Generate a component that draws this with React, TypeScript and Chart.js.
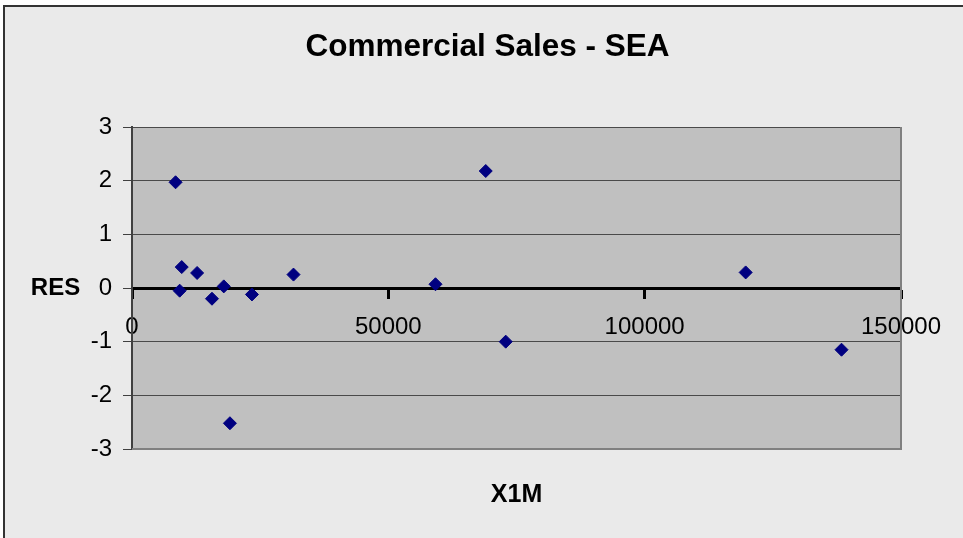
import React, { useEffect, useRef } from "react";
import { Chart, registerables } from "chart.js";

Chart.register(...registerables);

const chartTitle = "Commercial Sales - SEA";
const xAxisTitle = "X1M";
const yAxisTitle = "RES";

const x1m = [8500, 9300, 9700, 12700, 15600, 17900, 19100, 23400, 31500, 59200, 69000, 72900, 119700, 138400];
const res = [1.97, -0.05, 0.39, 0.28, -0.2, 0.03, -2.52, -0.12, 0.25, 0.07, 2.18, -1.0, 0.29, -1.15];

const xTicks = [0, 50000, 100000, 150000];
const yTicks = [-3, -2, -1, 0, 1, 2, 3];

const FONT = "'Liberation Sans', Arial, sans-serif";

const plotBackground = {
  id: "plotBackground",
  beforeDraw(chart: any) {
    const { ctx, chartArea } = chart;
    ctx.save();
    ctx.fillStyle = "#C0C0C0";
    ctx.fillRect(chartArea.left, chartArea.top, chartArea.right - chartArea.left, chartArea.bottom - chartArea.top);
    ctx.restore();
  },
  beforeDatasetsDraw(chart: any) {
    const { ctx, chartArea } = chart;
    ctx.save();
    ctx.strokeStyle = "#808080";
    ctx.lineWidth = 2;
    ctx.beginPath();
    ctx.moveTo(chartArea.left, chartArea.bottom);
    ctx.lineTo(chartArea.right, chartArea.bottom);
    ctx.lineTo(chartArea.right, chartArea.top);
    ctx.stroke();
    ctx.restore();
  },
};

const textLabels = {
  id: "textLabels",
  afterDraw(chart: any) {
    const { ctx, chartArea } = chart;
    ctx.save();
    ctx.fillStyle = "#000";
    ctx.textAlign = "center";
    ctx.textBaseline = "alphabetic";
    ctx.font = `bold 31.5px ${FONT}`;
    ctx.fillText(chartTitle, 487.5, 56);
    ctx.font = `bold 24px ${FONT}`;
    ctx.fillText(yAxisTitle, 55.5, 295);
    ctx.font = `bold 25px ${FONT}`;
    ctx.fillText(xAxisTitle, (chartArea.left + chartArea.right) / 2, 502);
    ctx.restore();
  },
};

export default function App() {
  const canvasRef = useRef<HTMLCanvasElement | null>(null);

  useEffect(() => {
    const canvas = canvasRef.current;
    if (!canvas) return;
    const chart = new Chart(canvas, {
      type: "scatter",
      data: {
        datasets: [
          {
            label: yAxisTitle,
            data: x1m.map((x, i) => ({ x, y: res[i] })),
            pointStyle: "rectRot",
            pointRadius: 6.5,
            pointHoverRadius: 6.5,
            backgroundColor: "#000080",
            borderColor: "#000080",
            borderWidth: 1,
          },
        ],
      },
      options: {
        responsive: false,
        animation: false,
        events: [],
        layout: { padding: { top: 127, left: 0, right: 62, bottom: 89 } },
        plugins: {
          legend: { display: false },
          title: { display: false },
          tooltip: { enabled: false },
        },
        scales: {
          x: {
            type: "linear",
            position: { y: 0 },
            min: 0,
            max: 150000,
            afterBuildTicks: (s: any) => {
              s.ticks = xTicks.map((v) => ({ value: v }));
            },
            afterFit: (s: any) => {
              s.height = 0;
            },
            grid: {
              drawOnChartArea: false,
              drawTicks: true,
              tickLength: 9,
              tickColor: "#000",
              tickWidth: 3,
            },
            border: { display: true, color: "#000", width: 3 },
            ticks: {
              autoSkip: false,
              maxRotation: 0,
              padding: 16,
              color: "#000",
              font: { family: FONT, size: 24 },
              callback: (v: any) => String(v),
            },
          },
          y: {
            type: "linear",
            position: "left",
            min: -3,
            max: 3,
            afterBuildTicks: (s: any) => {
              s.ticks = yTicks.map((v) => ({ value: v }));
            },
            afterFit: (s: any) => {
              s.width = 132;
            },
            grid: {
              color: "#4a4a4a",
              lineWidth: 1,
              drawTicks: true,
              tickLength: 9,
              tickColor: "#404040",
              tickWidth: 1,
            },
            border: { display: true, color: "#404040", width: 2 },
            ticks: {
              padding: 11,
              color: "#000",
              font: { family: FONT, size: 24 },
              callback: (v: any) => String(v),
            },
          },
        },
      },
      plugins: [plotBackground, textLabels],
    });
    return () => chart.destroy();
  }, []);

  return (
    <div
      style={{
        position: "fixed",
        left: 0,
        top: 0,
        width: 963,
        height: 538,
        overflow: "hidden",
        background: "#fff",
      }}
    >
      <div
        style={{
          position: "absolute",
          left: 3,
          top: 5,
          width: 990,
          height: 570,
          border: "2px solid #333",
          background: "#EAEAEA",
        }}
      />
      <canvas
        ref={canvasRef}
        width={963}
        height={538}
        style={{ position: "absolute", left: 0, top: 0, width: 963, height: 538 }}
      />
    </div>
  );
}
